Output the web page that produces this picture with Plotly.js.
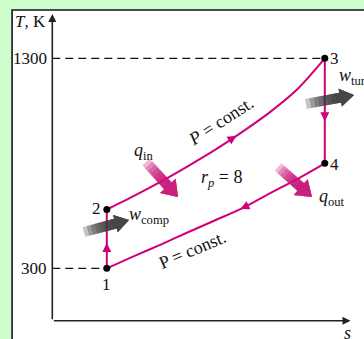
<!DOCTYPE html>
<html>
<head>
<meta charset="utf-8">
<script src="https://cdn.plot.ly/plotly-3.0.1.min.js"></script>
<style>
  html, body { margin: 0; padding: 0; background: #ccffcc; }
  #chart { width: 364px; height: 339px; }
</style>
</head>
<body>
<div id="chart"></div>
<script>
// Ideal air-standard Brayton cycle on T-s axes, pressure ratio 8
const stateLabels = ['1', '2', '3', '4'];
const stateS = [1, 1, 5, 5];
const stateT = [300, 580, 1300, 800];

// constant-pressure heat addition, 2 -> 3
const sHigh = [1, 1.5, 2, 2.5, 3, 3.5, 4, 4.5, 5];
const THigh = [580, 645, 714, 788, 866, 952, 1045, 1154, 1300];

// constant-pressure heat rejection, listed from state 1 to state 4
const sLow = [1, 1.5, 2, 2.5, 3, 3.5, 4, 4.5, 5];
const TLow = [300, 358, 414, 473, 530, 588, 658, 726, 800];

const tickT = [300, 1300];
const tickText = ['300', '1300'];

// ---- page geometry ----
const W = 364, H = 339, ML = 11, MT = 9;
const S0PX = 52.3, SPX = 54.5;      // pixel of s = 0, pixels per s unit
const T300PY = 268.3, TPY = 0.21;   // pixel of T = 300 K, pixels per kelvin
const sx = px => (px - S0PX) / SPX;
const ty = py => 300 + (T300PY - py) / TPY;
const xRange = [sx(ML), sx(W)];
const yRange = [ty(H), ty(MT)];
const T_AXIS = ty(320.7);
const S_END = sx(350.5);
const T_END = ty(14);

const MAGENTA = 'rgb(208,0,120)';
const SERIF = 'Liberation Serif, Times New Roman, serif';

// ---- traces ----
const lineStyle = { color: MAGENTA, width: 2 };
const traces = [
  { x: [stateS[0], stateS[1]], y: [stateT[0], stateT[1]], mode: 'lines', line: lineStyle },
  { x: sHigh, y: THigh, mode: 'lines', line: Object.assign({ shape: 'spline', smoothing: 0.8 }, lineStyle) },
  { x: [stateS[2], stateS[3]], y: [stateT[2], stateT[3]], mode: 'lines', line: lineStyle },
  { x: sLow, y: TLow, mode: 'lines', line: Object.assign({ shape: 'spline', smoothing: 0.8 }, lineStyle) },
  { x: stateS, y: stateT, mode: 'markers', marker: { color: '#000', size: 7 } }
];

// ---- shapes ----
const shapes = [
  // white panel with dark frame
  { type: 'rect', xref: 'paper', yref: 'paper', x0: 0.003, x1: 1.3, y0: -0.3, y1: 0.997,
    line: { color: '#111', width: 1.6 }, fillcolor: 'rgba(0,0,0,0)', layer: 'below' },
  // dashed guides to the labelled temperatures
  { type: 'line', x0: 0, x1: stateS[2], y0: stateT[2], y1: stateT[2],
    line: { color: '#111', width: 1.3, dash: '8px,5px' } },
  { type: 'line', x0: 0, x1: stateS[0], y0: stateT[0], y1: stateT[0],
    line: { color: '#111', width: 1.3, dash: '8px,5px' } }
];

// broad shaded arrows for heat and work transfers (pixel geometry, layered for a fade)
function fatArrow(tail, tip, rgb, bodyW, headW, headL, layers, alpha) {
  const dx = tip[0] - tail[0], dy = tip[1] - tail[1], L = Math.hypot(dx, dy);
  const ux = dx / L, uy = dy / L, nx = -uy, ny = ux;
  const bodyLen = L - headL;
  const bx = tip[0] - ux * headL, by = tip[1] - uy * headL;
  const pt = (x, y) => sx(x).toFixed(4) + ',' + ty(y).toFixed(3);
  for (let i = 0; i < layers; i++) {
    const f = i / layers;
    const tx = tail[0] + ux * bodyLen * f, tyy = tail[1] + uy * bodyLen * f;
    const path = 'M' + pt(tx + nx * bodyW / 2, tyy + ny * bodyW / 2) +
      'L' + pt(bx + nx * bodyW / 2, by + ny * bodyW / 2) +
      'L' + pt(bx + nx * headW / 2, by + ny * headW / 2) +
      'L' + pt(tip[0], tip[1]) +
      'L' + pt(bx - nx * headW / 2, by - ny * headW / 2) +
      'L' + pt(bx - nx * bodyW / 2, by - ny * bodyW / 2) +
      'L' + pt(tx - nx * bodyW / 2, tyy - ny * bodyW / 2) + 'Z';
    shapes.push({ type: 'path', path: path, fillcolor: 'rgba(' + rgb + ',' + alpha + ')',
      line: { width: 0 }, layer: 'above' });
  }
}
fatArrow([146, 162], [178, 197], '200,20,120', 10, 21, 15, 8, 0.3);   // q_in
fatArrow([278, 167], [312, 197], '200,20,120', 10, 21, 15, 8, 0.3);   // q_out
fatArrow([84, 232], [129, 220], '60,60,60', 10, 18, 14, 8, 0.3);      // w_comp
fatArrow([306, 104], [354, 95], '60,60,60', 10, 18, 14, 8, 0.3);      // w_turb

// ---- annotations ----
const annotations = [];
const txt = (text, x, y, opts) => annotations.push(Object.assign({
  text: text, x: x, y: y, showarrow: false,
  font: { family: SERIF, size: 18, color: '#111' }
}, opts || {}));

// axes drawn as arrows from the origin corner
annotations.push({ x: 0, y: T_END, ax: 0, ay: T_AXIS, axref: 'x', ayref: 'y', text: '',
  showarrow: true, arrowhead: 2, arrowsize: 1, arrowwidth: 1.6, arrowcolor: '#222', standoff: 0 });
annotations.push({ x: S_END, y: T_AXIS, ax: 0, ay: T_AXIS, axref: 'x', ayref: 'y', text: '',
  showarrow: true, arrowhead: 2, arrowsize: 1, arrowwidth: 1.6, arrowcolor: '#222', standoff: 0 });

// direction arrows on the cycle
function flowArrow(x, y, dirPx) {
  const L = Math.hypot(dirPx[0], dirPx[1]);
  annotations.push({ x: x, y: y, ax: -dirPx[0] / L * 10, ay: -dirPx[1] / L * 10, text: '',
    showarrow: true, arrowhead: 2, arrowsize: 0.9, arrowwidth: 2, arrowcolor: MAGENTA, standoff: 0 });
}
flowArrow(stateS[0], stateT[0] + 0.43 * (stateT[1] - stateT[0]), [0, -1]);
flowArrow(sHigh[5] - 0.12, THigh[5] - 0.12 * (THigh[5] - THigh[4]) / 0.5, [1, -0.64]);
flowArrow(stateS[2], stateT[2] - 0.6 * (stateT[2] - stateT[3]), [0, 1]);
flowArrow(sLow[5] - 0.05, TLow[5] - 0.05 * (TLow[5] - TLow[4]) / 0.5, [-1, 0.47]);

// axis labels and temperature ticks
txt('<i>T</i>, K', sx(13), ty(21), { xanchor: 'left', yanchor: 'middle', font: { family: SERIF, size: 17, color: '#111' } });
txt('<i>s</i>', sx(347), ty(333), { font: { family: SERIF, size: 18, color: '#111' } });
tickT.forEach((t, i) => txt(tickText[i], 0, t, { xanchor: 'right', yanchor: 'middle', xshift: -3,
  font: { family: SERIF, size: 17, color: '#111' } }));

// state numbers
const labelShift = [[0, -16], [-10, 1], [10, 0], [10, -1]];
stateLabels.forEach((lab, i) => txt(lab, stateS[i], stateT[i], {
  xshift: labelShift[i][0], yshift: labelShift[i][1], font: { family: SERIF, size: 17, color: '#111' } }));

// process and transfer labels
txt('<i>w</i><sub>comp</sub>', sx(127), ty(215), { xanchor: 'left', yanchor: 'middle' });
txt('<i>w</i><sub>turb</sub>', sx(337), ty(76), { xanchor: 'left', yanchor: 'middle' });
txt('<i>q</i><sub>in</sub>', sx(143), ty(151));
txt('<i>q</i><sub>out</sub>', sx(332), ty(197));
txt('<i>r</i><sub><i>p</i></sub> = 8', sx(221), ty(178));
txt('<i>P</i> = const.', sx(221), ty(121), { textangle: -33 });
txt('P = const.', sx(192), ty(250), { textangle: -23 });

const layout = {
  width: W, height: H,
  margin: { l: ML, r: 0, t: MT, b: 0, pad: 0 },
  paper_bgcolor: '#ccffcc',
  plot_bgcolor: '#ffffff',
  showlegend: false,
  xaxis: { range: xRange, visible: false, fixedrange: true },
  yaxis: { range: yRange, visible: false, fixedrange: true },
  shapes: shapes,
  annotations: annotations
};

Plotly.newPlot('chart', traces, layout, { staticPlot: true, displayModeBar: false });
</script>
</body>
</html>
